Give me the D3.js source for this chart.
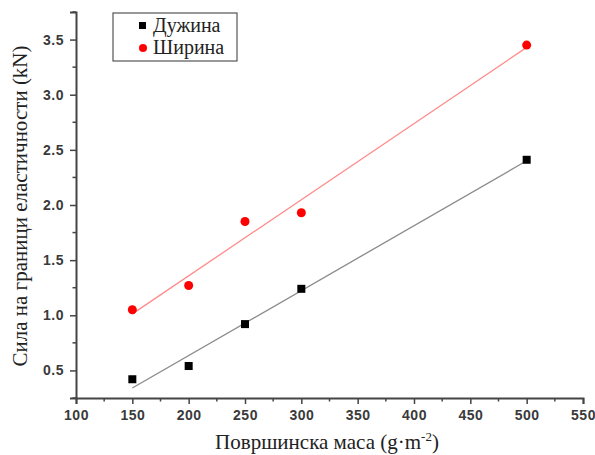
<!DOCTYPE html>
<html>
<head>
<meta charset="utf-8">
<script src="https://cdn.jsdelivr.net/npm/d3@7"></script>
<style>
  body { margin: 0; background: #fff; }
</style>
</head>
<body>
<div id="chart-area"></div>
<script>
// Data
let masses = [150, 200, 250, 300, 500];
let lengthVals = [0.42, 0.54, 0.92, 1.24, 2.41];   // Дужина
let widthVals = [1.05, 1.27, 1.85, 1.93, 3.45];    // Ширина
let seriesNames = ["Дужина", "Ширина"];
let xTicks = [100, 150, 200, 250, 300, 350, 400, 450, 500, 550];
let yTicks = [0.5, 1.0, 1.5, 2.0, 2.5, 3.0, 3.5];

let width = 595, height = 455;
let margin = {top: 12, right: 12, bottom: 57, left: 76};

let svg = d3.select("#chart-area")
	.append("svg")
	.attr("width", width)
	.attr("height", height);

let x = d3.scaleLinear().domain([100, 550]).range([margin.left, width - margin.right]);
let y = d3.scaleLinear().domain([0.25, 3.75]).range([height - margin.bottom, margin.top]);

// least squares fit for each series
function fit(xs, ys) {
	let mx = d3.mean(xs), my = d3.mean(ys);
	let sxy = d3.sum(xs, (d, i) => (d - mx) * (ys[i] - my));
	let sxx = d3.sum(xs, d => (d - mx) * (d - mx));
	let b = sxy / sxx;
	let a = my - b * mx;
	let x0 = d3.min(xs), x1 = d3.max(xs);
	return [[x0, a + b * x0], [x1, a + b * x1]];
}

let line = d3.line().x(d => x(d[0])).y(d => y(d[1]));

svg.append("path")
	.attr("d", line(fit(masses, lengthVals)))
	.attr("fill", "none")
	.attr("stroke", "#8a8a8a")
	.attr("stroke-width", 1.3);

svg.append("path")
	.attr("d", line(fit(masses, widthVals)))
	.attr("fill", "none")
	.attr("stroke", "#ff8a8a")
	.attr("stroke-width", 1.3);

// axes
let xAxis = d3.axisBottom(x).tickValues(xTicks).tickFormat(d3.format("d")).tickSize(6).tickPadding(6);
let yAxis = d3.axisLeft(y).tickValues(yTicks).tickFormat(d3.format(".1f")).tickSize(6).tickPadding(6);

let xAxisGroup = svg.append("g")
	.attr("transform", "translate(0," + (height - margin.bottom) + ")")
	.call(xAxis);
let yAxisGroup = svg.append("g")
	.attr("transform", "translate(" + margin.left + ",0)")
	.call(yAxis);

// minor ticks
xAxisGroup.selectAll(".minor")
	.data(xTicks.slice(0, -1).map(d => d + 25))
	.enter().append("line")
	.attr("x1", d => x(d)).attr("x2", d => x(d))
	.attr("y1", 0).attr("y2", 3.5)
	.attr("stroke", "#444").attr("stroke-width", 1.5);
yAxisGroup.selectAll(".minor")
	.data([0.25, 0.75, 1.25, 1.75, 2.25, 2.75, 3.25, 3.75])
	.enter().append("line")
	.attr("y1", d => y(d)).attr("y2", d => y(d))
	.attr("x1", 0).attr("x2", -3.5)
	.attr("stroke", "#444").attr("stroke-width", 1.5);

[xAxisGroup, yAxisGroup].forEach(g => {
	g.attr("font-family", "Liberation Sans, Arial, sans-serif")
		.attr("font-size", 14)
		.attr("font-weight", "bold");
	g.select(".domain").attr("stroke", "#444").attr("stroke-width", 2);
	g.selectAll(".tick line").attr("stroke", "#444").attr("stroke-width", 1.5);
	g.selectAll(".tick text")
		.attr("letter-spacing", 0.5)
		.attr("fill", "#3a3a3a");
});

// points
svg.selectAll(".sq")
	.data(masses)
	.enter().append("rect")
	.attr("x", (d) => x(d) - 4)
	.attr("y", (d, i) => y(lengthVals[i]) - 4)
	.attr("width", 8).attr("height", 8)
	.attr("fill", "#000");

svg.selectAll(".dot")
	.data(masses)
	.enter().append("circle")
	.attr("cx", d => x(d))
	.attr("cy", (d, i) => y(widthVals[i]))
	.attr("r", 4.5)
	.attr("fill", "#ff0000");

// legend
let legend = svg.append("g").attr("transform", "translate(113,13)");
legend.append("rect")
	.attr("width", 124).attr("height", 48)
	.attr("fill", "#fff")
	.attr("stroke", "#555").attr("stroke-width", 1.2);
legend.append("rect").attr("x", 26).attr("y", 9).attr("width", 7).attr("height", 7).attr("fill", "#000");
legend.append("circle").attr("cx", 30).attr("cy", 35).attr("r", 4).attr("fill", "#ff0000");
legend.selectAll(".lt")
	.data(seriesNames)
	.enter().append("text")
	.attr("x", 40)
	.attr("y", (d, i) => 19 + i * 22)
	.style("font-family", "'Liberation Serif', 'Times New Roman', serif")
	.style("font-size", "20px")
	.attr("fill", "#222")
	.text(d => d);

// axis labels
let xLabel = svg.append("text")
	.attr("x", 327)
	.attr("y", 449)
	.style("text-anchor", "middle")
	.style("font-family", "'Liberation Serif', 'Times New Roman', serif")
	.style("font-size", "21px")
	.attr("fill", "#222");
xLabel.append("tspan").text("Површинска маса (g·m");
xLabel.append("tspan").attr("dy", -8).style("font-size", "13px").text("-2");
xLabel.append("tspan").attr("dy", 8).text(")");

svg.append("text")
	.attr("transform", "translate(27,206) rotate(-90)")
	.style("text-anchor", "middle")
	.style("font-family", "'Liberation Serif', 'Times New Roman', serif")
	.style("font-size", "21px")
	.attr("fill", "#222")
	.text("Сила на граници еластичности (kN)");
</script>
</body>
</html>
